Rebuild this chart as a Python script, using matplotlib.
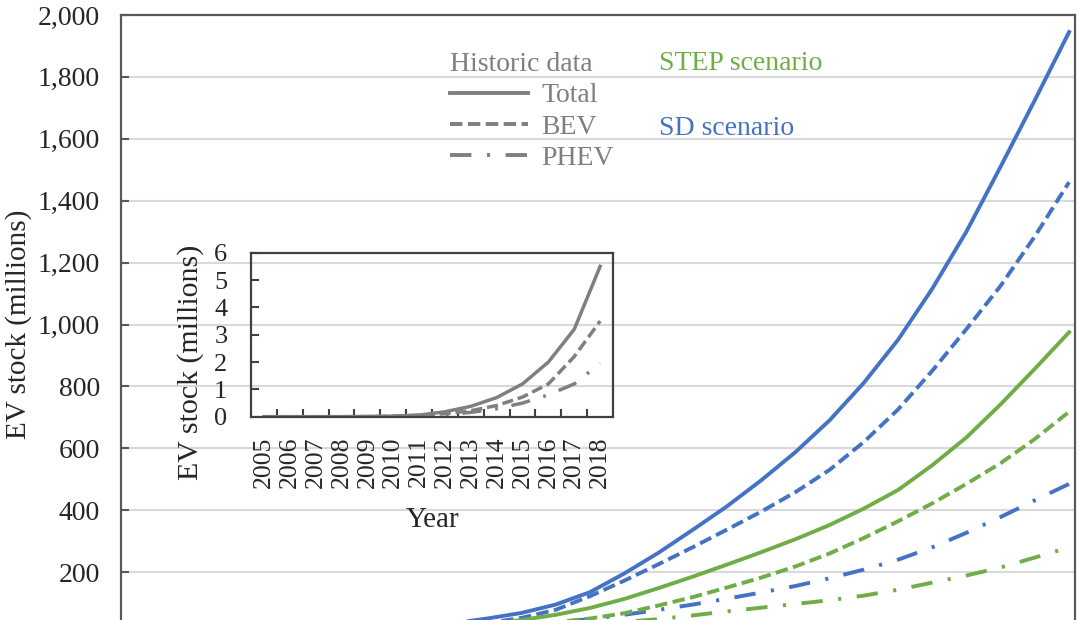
import matplotlib
matplotlib.use("Agg")
import matplotlib.pyplot as plt
from matplotlib.lines import Line2D
from matplotlib.ticker import FuncFormatter, FixedLocator

plt.rcParams["font.family"] = ["Liberation Serif", "DejaVu Serif"]

# historic data (inset), millions
hist_years = list(range(2005, 2019))
hist_total = [0, 0, 0, 0, 0.01, 0.02, 0.06, 0.18, 0.38, 0.7, 1.2, 2.0, 3.2, 5.5]
hist_bev = [0, 0, 0, 0, 0, 0.02, 0.05, 0.11, 0.22, 0.41, 0.72, 1.2, 2.2, 3.5]
hist_phev = [0, 0, 0, 0, 0, 0, 0.01, 0.07, 0.16, 0.29, 0.5, 0.8, 1.2, 1.95]

# scenario projections, millions
years = list(range(2018, 2061, 2))
sd_total = [5.5, 12, 22, 35, 50, 68, 95, 135, 195, 262, 336, 412, 496, 587,
            690, 811, 950, 1115, 1300, 1510, 1725, 1945]
sd_bev = [3.5, 8, 15, 24, 35, 52, 78, 122, 172, 225, 280, 337, 395, 458,
          530, 620, 725, 850, 985, 1125, 1285, 1460]
sd_phev = [2, 4, 8, 13, 20, 28, 38, 48, 62, 78, 95, 114, 134, 155,
           180, 208, 240, 280, 327, 378, 432, 485]
step_total = [5.5, 8, 14, 22, 32, 45, 62, 84, 113, 148, 185, 224, 264, 306,
              352, 405, 465, 545, 635, 742, 857, 975]
step_bev = [3.5, 6, 10, 15, 22, 31, 38, 50, 67, 92, 119, 150, 182, 218,
            260, 310, 364, 422, 485, 552, 630, 718]
step_phev = [2, 3.5, 6, 9, 13, 18, 24, 31, 39, 48, 60, 73, 85, 97,
             109, 124, 143, 166, 189, 215, 247, 280]

blue = "#4472C4"
green = "#70AD47"
gray = "#7F7F7F"
dash = (0, (3.2, 1.4))
dashdot = (0, (5.5, 4, 0.8, 4))

fig = plt.figure(figsize=(10.82, 6.2), dpi=100)
ax = fig.add_axes([0.1116, -0.0226, 0.882, 0.9984])

ax.plot(years, sd_total, "-", color=blue, lw=2.8)
ax.plot(years, sd_bev, linestyle=dash, color=blue, lw=2.8)
ax.plot(years, sd_phev, linestyle=dashdot, color=blue, lw=2.8)
ax.plot(years, step_total, "-", color=green, lw=2.8)
ax.plot(years, step_bev, linestyle=dash, color=green, lw=2.8)
ax.plot(years, step_phev, linestyle=dashdot, color=green, lw=2.8)

ax.set_xlim(2004.6, 2060.35)
ax.set_ylim(0, 2000)
ax.set_yticks(range(0, 2001, 200))
ax.yaxis.set_major_formatter(
    FuncFormatter(lambda v, p: f"{int(v):,}" if v > 0 else ""))
ax.set_xticks([])
ax.grid(axis="y", color="#D9D9D9", lw=1.5)
ax.set_axisbelow(True)
ax.tick_params(axis="y", direction="in", length=6, width=1.5, color="#595959",
               labelsize=20, pad=15, labelcolor="#262626")
for s in ax.spines.values():
    s.set_color("#595959")
    s.set_linewidth(1.6)
ax.set_ylabel("EV stock (millions)", fontsize=21, labelpad=4, color="#262626")

# legend block
handles = [Line2D([], [], color=gray, lw=2.8, linestyle="-"),
           Line2D([], [], color=gray, lw=2.8, linestyle=dash),
           Line2D([], [], color=gray, lw=2.8, linestyle=dashdot)]
leg = ax.legend(handles, ["Total", "BEV", "PHEV"], title="Historic data",
                loc="upper left", bbox_to_anchor=(0.345, 0.94), frameon=False,
                fontsize=20, title_fontsize=20, handlelength=2.8,
                handletextpad=0.5, labelspacing=0.21, borderpad=0,
                borderaxespad=0, alignment="left")
leg.get_title().set_color(gray)
for t in leg.get_texts():
    t.set_color(gray)
ax.text(0.564, 0.921, "STEP scenario", transform=ax.transAxes, fontsize=20,
        color=green, va="center", ha="left")
ax.text(0.564, 0.817, "SD scenario", transform=ax.transAxes, fontsize=20,
        color=blue, va="center", ha="left")

# inset with historic data
ins = fig.add_axes([0.232, 0.3279, 0.3346, 0.2645])
ins.set_facecolor("none")
xi = list(range(len(hist_years)))
ins.plot(xi, hist_total, "-", color=gray, lw=2.5)
ins.plot(xi, hist_bev, linestyle=dash, color=gray, lw=2.5)
ins.plot(xi, hist_phev, linestyle=dashdot, color=gray, lw=2.5)
ins.set_xlim(-0.5, len(hist_years) - 0.5)
ins.set_ylim(0, 6)
ins.set_yticks(range(0, 7))
ins.set_xticks(xi)
ins.set_xticklabels([str(y) for y in hist_years], rotation=90)
ins.xaxis.set_minor_locator(FixedLocator([i + 0.5 for i in xi[:-1]]))
ins.tick_params(axis="x", which="major", length=0, labelsize=18.5, pad=14,
                labelcolor="#262626")
ins.tick_params(axis="x", which="minor", direction="in", length=6, width=1.5,
                color="#404040")
ins.tick_params(axis="y", direction="in", length=6, width=1.5, color="#404040",
                labelsize=19, pad=17, labelcolor="#262626")
for s in ins.spines.values():
    s.set_color("#404040")
    s.set_linewidth(1.6)
ins.set_ylabel("EV stock (millions)", fontsize=21.5, color="#262626")
ins.yaxis.set_label_coords(-0.13, 0.33)
ins.set_xlabel("Year", fontsize=21, labelpad=14, color="#262626")

fig.savefig("out.png", dpi=100)
